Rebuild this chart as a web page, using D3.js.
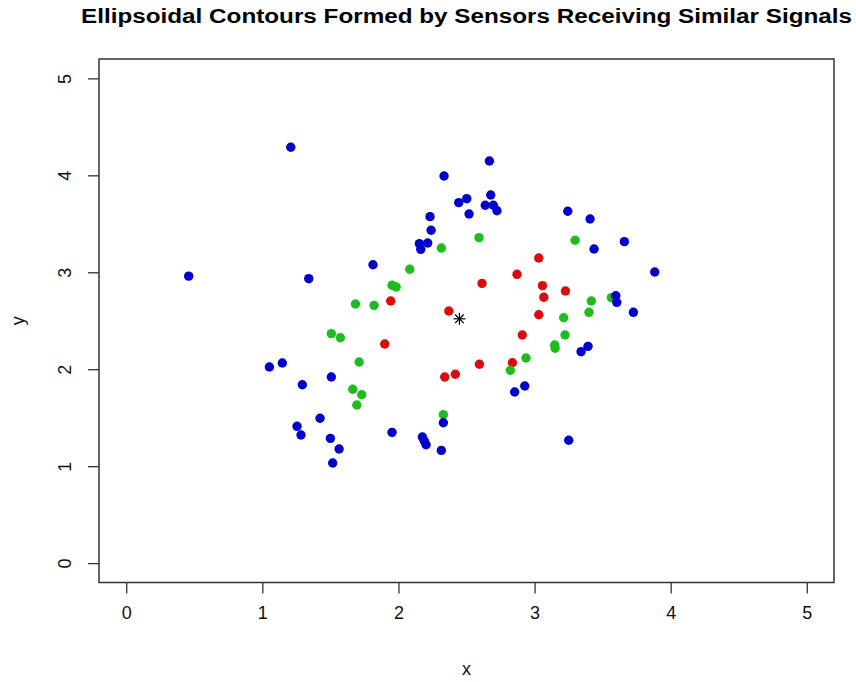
<!DOCTYPE html>
<html>
<head>
<meta charset="utf-8">
<script src="https://cdn.jsdelivr.net/npm/d3@7"></script>
<style>
  body { margin: 0; background: #fff; }
  svg { display: block; font-family: "Liberation Sans", Arial, sans-serif; }
</style>
</head>
<body>
<svg id="chart" width="856" height="682"></svg>
<script>
const title = "Ellipsoidal Contours Formed by Sensors Receiving Similar Signals";
const xLabel = "x";
const yLabel = "y";
const xTicks = [0, 1, 2, 3, 4, 5];
const yTicks = [0, 1, 2, 3, 4, 5];

const blueX = [1.209,0.459,1.341,1.813,2.668,2.335,2.443,2.502,2.678,2.638,2.697,2.724,2.519,2.232,2.240,2.154,2.215,2.164,3.244,3.408,3.437,3.660,3.883,3.597,3.604,3.726,3.342,3.393,2.854,2.928,3.251,1.052,1.147,1.507,1.294,1.424,1.255,1.284,1.500,1.564,1.517,1.953,2.176,2.203,2.190,2.315,2.330];
const blueY = [4.290,2.960,2.934,3.078,4.148,3.993,3.718,3.759,3.797,3.691,3.691,3.635,3.601,3.574,3.433,3.295,3.302,3.237,3.629,3.550,3.240,3.316,3.003,2.758,2.690,2.587,2.181,2.236,1.765,1.827,1.267,2.023,2.064,1.920,1.840,1.494,1.411,1.321,1.287,1.177,1.033,1.349,1.301,1.221,1.260,1.163,1.448];

const greenX = [1.684,1.821,1.953,1.983,2.083,2.315,2.592,3.298,1.507,1.573,1.711,1.664,1.730,1.694,2.330,2.822,2.937,3.148,3.151,3.224,3.214,3.400,3.417,3.564];
const greenY = [2.673,2.659,2.866,2.848,3.031,3.250,3.357,3.330,2.367,2.325,2.075,1.793,1.737,1.631,1.531,1.989,2.116,2.250,2.216,2.353,2.531,2.587,2.704,2.738];

const redX = [1.943,2.370,2.614,2.871,3.031,3.058,3.068,3.227,3.031,1.899,2.340,2.418,2.595,2.837,2.910];
const redY = [2.704,2.601,2.886,2.979,3.147,2.862,2.742,2.807,2.562,2.260,1.920,1.948,2.051,2.067,2.353];

const centerX = [2.448];
const centerY = [2.520];

const svg = d3.select("#chart");
const mLeft = 99, mRight = 834, mTop = 59, mBottom = 582.5;

const x = d3.scaleLinear().domain([-0.2, 5.2]).range([mLeft, mRight]);
const y = d3.scaleLinear().domain([-0.2, 5.2]).range([mBottom, mTop]);

// Title
svg.append("text")
  .attr("x", (mLeft + mRight) / 2)
  .attr("y", 23)
  .attr("text-anchor", "middle")
  .attr("font-size", 20)
  .attr("font-weight", "bold")
  .attr("fill", "#000")
  .attr("textLength", 771)
  .attr("lengthAdjust", "spacingAndGlyphs")
  .text(title);

// Axes
const xAxis = svg.append("g")
  .attr("transform", `translate(0,${mBottom})`)
  .call(d3.axisBottom(x).tickValues(xTicks).tickFormat(d3.format("d")).tickSize(11).tickPadding(13).tickSizeOuter(0));
const yAxis = svg.append("g")
  .attr("transform", `translate(${mLeft},0)`)
  .call(d3.axisLeft(y).tickValues(yTicks).tickFormat(d3.format("d")).tickSize(11).tickSizeOuter(0));

[xAxis, yAxis].forEach(g => {
  g.select(".domain").remove();
  g.selectAll(".tick line").attr("stroke", "#333").attr("stroke-width", 1.3);
  g.selectAll(".tick text").attr("font-size", 18).attr("fill", "#111")
    .attr("font-family", "'Liberation Sans', Arial, sans-serif");
});
yAxis.selectAll(".tick text")
  .attr("text-anchor", "middle")
  .attr("x", 0).attr("y", 0)
  .attr("dy", "0.35em")
  .attr("transform", "translate(-34,0) rotate(-90)");

// Box
svg.append("rect")
  .attr("x", mLeft).attr("y", mTop)
  .attr("width", mRight - mLeft).attr("height", mBottom - mTop)
  .attr("fill", "none").attr("stroke", "#333").attr("stroke-width", 1.5);

// Axis titles
svg.append("text").attr("x", (mLeft + mRight) / 2).attr("y", 675)
  .attr("text-anchor", "middle").attr("font-size", 18).attr("fill", "#111").text(xLabel);
svg.append("text").attr("transform", `translate(24,${(mTop + mBottom) / 2}) rotate(-90)`)
  .attr("text-anchor", "middle").attr("font-size", 18).attr("fill", "#111").text(yLabel);

// Points
function drawPoints(xs, ys, color, cls) {
  svg.append("g").attr("class", cls).selectAll("circle")
    .data(xs.map((v, i) => [v, ys[i]]))
    .join("circle")
    .attr("cx", d => x(d[0]))
    .attr("cy", d => y(d[1]))
    .attr("r", 4.7)
    .attr("fill", color);
}
drawPoints(redX, redY, "#dd0c0c", "red");
drawPoints(greenX, greenY, "#1ebd1e", "green");
drawPoints(blueX, blueY, "#0000cd", "blue");

// Asterisk (pch = 8)
const star = svg.append("g").attr("class", "center")
  .selectAll("g").data(centerX.map((v, i) => [v, centerY[i]])).join("g")
  .attr("transform", d => `translate(${x(d[0])},${y(d[1])})`);
const s = 6;
[[-s, 0, s, 0], [0, -s, 0, s], [-s*0.72, -s*0.72, s*0.72, s*0.72], [-s*0.72, s*0.72, s*0.72, -s*0.72]].forEach(l => {
  star.append("line").attr("x1", l[0]).attr("y1", l[1]).attr("x2", l[2]).attr("y2", l[3])
    .attr("stroke", "#000").attr("stroke-width", 1.2);
});
</script>
</body>
</html>
